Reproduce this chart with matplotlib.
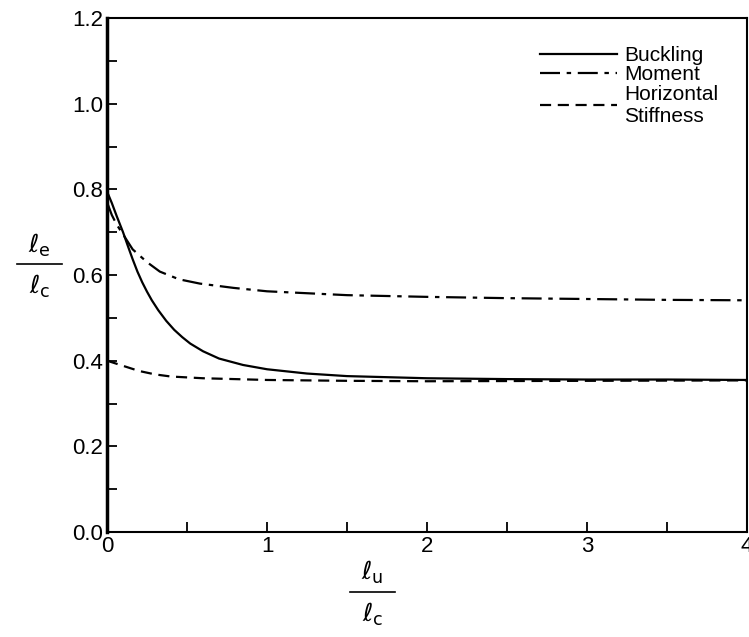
import matplotlib
matplotlib.use("Agg")
import matplotlib.pyplot as plt
from matplotlib.lines import Line2D
from matplotlib.ticker import MultipleLocator

plt.rcParams['font.family'] = ['Liberation Sans', 'DejaVu Sans']

# Data
buck_x = [0.0, 0.03, 0.06, 0.1, 0.13, 0.16, 0.19, 0.22, 0.25, 0.28, 0.32, 0.37, 0.42, 0.47, 0.52, 0.6, 0.7, 0.85, 1.0, 1.25, 1.5, 2.0, 2.5, 3.0, 3.5, 4.0]
buck_y = [0.795, 0.768, 0.738, 0.70, 0.668, 0.637, 0.608, 0.583, 0.561, 0.541, 0.518, 0.493, 0.472, 0.455, 0.440, 0.422, 0.405, 0.390, 0.380, 0.370, 0.364, 0.359, 0.357, 0.356, 0.356, 0.355]

mom_x = [0.0, 0.03, 0.06, 0.1, 0.16, 0.25, 0.33, 0.45, 0.58, 0.79, 1.0, 1.5, 2.0, 2.5, 3.0, 3.5, 4.0]
mom_y = [0.77, 0.74, 0.718, 0.695, 0.66, 0.63, 0.608, 0.59, 0.58, 0.57, 0.562, 0.553, 0.549, 0.546, 0.544, 0.542, 0.541]

hs_x = [0.0, 0.1, 0.2, 0.3, 0.4, 0.6, 0.8, 1.0, 1.5, 2.0, 3.0, 4.0]
hs_y = [0.40, 0.388, 0.376, 0.368, 0.363, 0.359, 0.357, 0.355, 0.353, 0.352, 0.353, 0.354]

labels = ["Buckling", "Moment", "Horizontal\nStiffness"]
yticks = [0.0, 0.2, 0.4, 0.6, 0.8, 1.0, 1.2]
xticks = [0, 1, 2, 3, 4]

fig = plt.figure(figsize=(7.49, 6.37), dpi=100)
ax = fig.add_axes([0.1429, 0.1648, 0.8545, 0.8069])

lw = 1.6
ax.plot(buck_x, buck_y, color='black', lw=lw, ls='-', label=labels[0])
ax.plot(mom_x, mom_y, color='black', lw=lw, ls=(0, (9, 3, 2, 3)), label=labels[1])
ax.plot(hs_x, hs_y, color='black', lw=lw, ls=(0, (5, 3)), label=labels[2])

ax.set_xlim(0, 4)
ax.set_ylim(0, 1.2)
ax.set_yticks(yticks)
ax.set_yticklabels([f"{v:.1f}" for v in yticks])
ax.set_xticks(xticks)
ax.set_xticklabels([str(v) for v in xticks])
ax.xaxis.set_minor_locator(MultipleLocator(0.5))
ax.yaxis.set_minor_locator(MultipleLocator(0.1))
ax.tick_params(axis='both', which='both', direction='in', top=False, right=False,
               labelsize=16, width=1.3, color='black')
ax.tick_params(axis='y', which='both', length=7, pad=3)
ax.tick_params(axis='x', which='both', length=7, pad=3)
for s in ['top', 'right', 'bottom']:
    ax.spines[s].set_linewidth(1.5)
ax.spines['left'].set_linewidth(2.5)

leg = ax.legend(loc='upper right', bbox_to_anchor=(0.968, 0.962), frameon=False,
                fontsize=15, handlelength=3.7, handletextpad=0.35,
                labelspacing=0.02, borderaxespad=0.0)

# axis labels as stacked fractions
def frac(xc, yc, top, bot):
    fig.text(xc, yc + 0.030, top, ha='center', va='center', fontsize=18)
    fig.text(xc, yc - 0.035, bot, ha='center', va='center', fontsize=18)
    fig.add_artist(Line2D([xc - 0.03, xc + 0.03], [yc, yc], color='black', lw=1.2,
                          transform=fig.transFigure))

frac(0.053, 0.585, r'$\ell_{\mathsf{e}}$', r'$\ell_{\mathsf{c}}$')
frac(0.497, 0.071, r'$\ell_{\mathsf{u}}$', r'$\ell_{\mathsf{c}}$')

fig.savefig("out.png", dpi=100)
